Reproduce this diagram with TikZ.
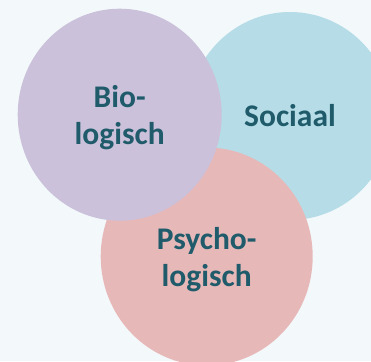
\documentclass[tikz,border=0pt]{standalone}
\usepackage{fontspec}
\setmainfont{Carlito}
\definecolor{bgc}{HTML}{F3F8FB}
\definecolor{bioc}{HTML}{CBC1DA}
\definecolor{socc}{HTML}{B6DDE7}
\definecolor{psyc}{HTML}{E7B8B8}
\definecolor{txtc}{HTML}{1F5B6A}
\tikzset{
  blob/.style={draw=none},
  lbl/.style={text=txtc, font=\fontsize{31.5}{37}\selectfont\bfseries, align=center, inner sep=0pt, anchor=base}
}
\begin{document}
\begin{tikzpicture}[x=1pt,y=1pt]
\fill[bgc] (0,0) rectangle (371,361);
\useasboundingbox (0,0) rectangle (371,361);
\begin{scope}
\clip (0,0) rectangle (371,361);
\fill[socc, blob] (290,245) ellipse [x radius=102, y radius=104];
\fill[psyc, blob] (206.7,104.5) ellipse [x radius=106, y radius=109];
\fill[bioc, blob] (119.7,246.3) ellipse [x radius=102, y radius=106];
\end{scope}
\node[lbl] (soc) at (290,234.3) {Sociaal};
\node[lbl] (bio) at (119.7,216.7) {Bio-\\logisch};
\node[lbl] (psy) at (206.7,75) {Psycho-\\logisch};
\end{tikzpicture}
\end{document}
